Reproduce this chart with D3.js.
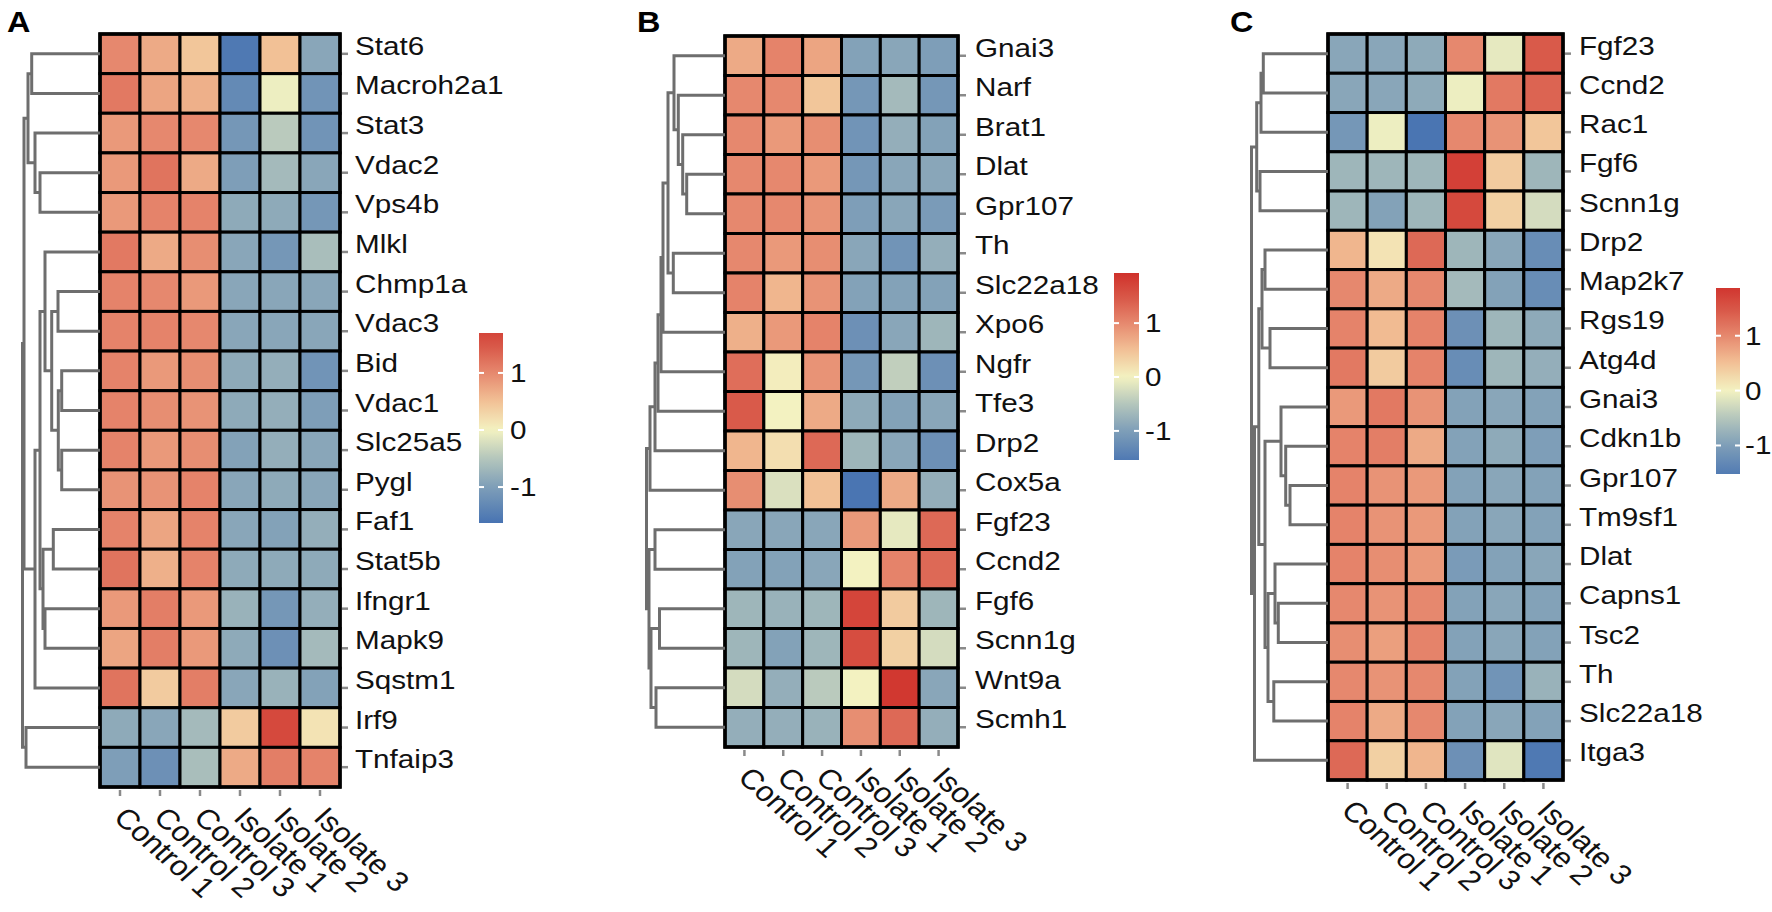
<!DOCTYPE html>
<html><head><meta charset="utf-8">
<script src="https://cdn.jsdelivr.net/npm/d3@7"></script>
<style>
body{margin:0;background:#fff;}
svg{display:block;font-family:"Liberation Sans", Arial, Helvetica, sans-serif;}
</style></head><body>
<svg id="chart" width="1772" height="912"></svg>
<script>
// ---------------- DATA ----------------
const samples = ["Control 1","Control 2","Control 3","Isolate 1","Isolate 2","Isolate 3"];
const legendTicks = [-1, 0, 1];

const genesA = ["Stat6","Macroh2a1","Stat3","Vdac2","Vps4b","Mlkl","Chmp1a","Vdac3","Bid","Vdac1","Slc25a5","Pygl","Faf1","Stat5b","Ifngr1","Mapk9","Sqstm1","Irf9","Tnfaip3"];
const valuesA = [
  [1.0, 0.7, 0.45, -1.55, 0.5, -0.9],
  [1.15, 0.75, 0.65, -1.3, -0.05, -1.15],
  [0.85, 1.0, 1.0, -1.1, -0.45, -1.15],
  [0.85, 1.2, 0.7, -1.0, -0.65, -0.9],
  [0.85, 1.05, 1.05, -0.85, -0.85, -1.1],
  [1.15, 0.7, 0.95, -0.9, -1.1, -0.6],
  [1.05, 1.0, 0.85, -0.9, -0.9, -0.9],
  [1.05, 1.05, 1.0, -0.9, -0.9, -0.9],
  [1.05, 0.85, 0.95, -0.85, -0.8, -1.15],
  [1.05, 0.95, 0.9, -0.85, -0.8, -1.0],
  [1.05, 0.85, 0.95, -0.95, -0.8, -0.9],
  [0.9, 0.9, 1.05, -0.9, -0.85, -0.9],
  [1.05, 0.75, 1.05, -0.9, -0.95, -0.8],
  [1.2, 0.65, 1.05, -0.85, -0.85, -0.85],
  [0.85, 1.1, 0.85, -0.75, -1.1, -0.8],
  [0.75, 1.1, 0.85, -0.85, -1.2, -0.65],
  [1.2, 0.4, 1.1, -0.9, -0.75, -0.95],
  [-0.85, -0.9, -0.65, 0.4, 1.65, 0.15],
  [-1.0, -1.2, -0.6, 0.7, 1.1, 1.05]
];
// dendrogram: [mergeHeight, left, right]
const treeA = [7.75,
  [7.6,
    [7.2, [6.83, "Stat6", "Macroh2a1"], [6.5, "Stat3", [6.0, "Vdac2", "Vps4b"]]],
    [6.5,
      [6.0,
        [5.5, "Mlkl", [4.83, [4.2, "Chmp1a", "Vdac3"], [4.17, [3.83, "Bid", "Vdac1"], [3.83, "Slc25a5", "Pygl"]]]],
        [5.7, [4.67, "Faf1", "Stat5b"], [5.5, "Ifngr1", "Mapk9"]]],
      "Sqstm1"]],
  [7.4, "Irf9", "Tnfaip3"]];
const legendDomainA = [-1.63, 1.70];

const genesB = ["Gnai3","Narf","Brat1","Dlat","Gpr107","Th","Slc22a18","Xpo6","Ngfr","Tfe3","Drp2","Cox5a","Fgf23","Ccnd2","Fgf6","Scnn1g","Wnt9a","Scmh1"];
const valuesB = [
  [0.7, 1.05, 0.75, -0.95, -0.9, -1.0],
  [1.0, 1.0, 0.45, -1.1, -0.65, -1.1],
  [1.0, 0.85, 0.95, -1.15, -0.8, -0.95],
  [1.0, 1.0, 0.85, -1.1, -0.9, -0.9],
  [1.0, 1.0, 0.9, -1.0, -0.9, -1.05],
  [1.0, 0.85, 0.95, -0.9, -1.15, -0.8],
  [1.05, 0.6, 0.9, -0.95, -0.95, -0.95],
  [0.65, 0.85, 1.05, -1.2, -0.9, -0.7],
  [1.25, 0.05, 0.9, -1.1, -0.4, -1.2],
  [1.45, 0.0, 0.7, -0.85, -0.95, -0.9],
  [0.6, 0.2, 1.3, -0.7, -0.9, -1.2],
  [0.95, -0.2, 0.5, -1.6, 0.7, -0.8],
  [-0.9, -0.9, -0.9, 0.85, -0.1, 1.3],
  [-0.95, -0.95, -0.9, 0.0, 1.05, 1.3],
  [-0.7, -0.75, -0.7, 1.7, 0.4, -0.7],
  [-0.7, -0.95, -0.7, 1.6, 0.35, -0.25],
  [-0.25, -0.8, -0.45, 0.0, 1.85, -0.9],
  [-0.8, -0.8, -0.75, 0.95, 1.3, -0.8]
];
const treeB = [7.85,
  [7.5, [7.0, [6.7, [6.4, [6.2, [5.7, [5.1, "Gnai3", [4.67, "Narf", [4.23, "Brat1", [3.83, "Dlat", "Gpr107"]]]], [5.17, "Th", "Slc22a18"]], "Xpo6"], "Ngfr"], "Tfe3"], "Drp2"], "Cox5a"],
  [7.6, [7.0, "Fgf23", "Ccnd2"], [7.4, [6.55, "Fgf6", "Scnn1g"], [6.9, "Wnt9a", "Scmh1"]]]];
const legendDomainB = [-1.54, 1.93];

const genesC = ["Fgf23","Ccnd2","Rac1","Fgf6","Scnn1g","Drp2","Map2k7","Rgs19","Atg4d","Gnai3","Cdkn1b","Gpr107","Tm9sf1","Dlat","Capns1","Tsc2","Th","Slc22a18","Itga3"];
const valuesC = [
  [-0.9, -0.9, -0.85, 1.0, -0.1, 1.45],
  [-0.9, -0.9, -0.85, -0.05, 1.15, 1.35],
  [-1.1, -0.05, -1.6, 1.0, 0.9, 0.45],
  [-0.7, -0.7, -0.7, 1.75, 0.4, -0.7],
  [-0.7, -0.95, -0.7, 1.65, 0.35, -0.25],
  [0.6, 0.15, 1.3, -0.7, -0.9, -1.25],
  [1.0, 0.7, 1.0, -0.65, -0.95, -1.25],
  [1.05, 0.55, 1.05, -1.2, -0.7, -0.85],
  [1.15, 0.4, 1.05, -1.25, -0.7, -0.8],
  [0.85, 1.15, 0.9, -0.95, -0.9, -0.95],
  [1.05, 1.1, 0.7, -0.95, -0.85, -1.0],
  [1.05, 0.9, 0.85, -0.95, -0.9, -0.95],
  [1.05, 0.9, 0.85, -0.95, -0.9, -0.95],
  [1.05, 0.95, 0.85, -1.05, -0.95, -0.9],
  [1.0, 0.9, 1.0, -0.95, -0.9, -0.95],
  [0.95, 0.8, 1.05, -0.95, -0.9, -0.95],
  [1.0, 0.9, 1.0, -0.95, -1.15, -0.75],
  [1.05, 0.7, 1.0, -0.95, -0.9, -0.95],
  [1.3, 0.35, 0.6, -1.2, -0.15, -1.55]
];
const treeC = [7.65,
  [7.13, [6.7, [6.47, "Fgf23", "Ccnd2"], "Rac1"], [6.8, "Fgf6", "Scnn1g"]],
  [7.35,
    [6.92,
      [6.6, [6.3, "Drp2", "Map2k7"], [5.8, "Rgs19", "Atg4d"]],
      [6.3,
        [4.7, "Gnai3", [4.23, "Cdkn1b", [3.8, "Gpr107", "Tm9sf1"]]],
        [6.0, [5.3, "Dlat", [4.97, "Capns1", "Tsc2"]], [5.42, "Th", "Slc22a18"]]]],
    "Itga3"]];
const legendDomainC = [-1.52, 1.87];

// ---------------- STYLE / LAYOUT ----------------
const colorStops = [-1.65, -1.0, -0.5, 0, 0.5, 1.0, 1.45, 1.95];
const colorHex   = ["#4672b2","#7e9eb8","#b4c6bc","#f3f2c1","#f2c196","#e6886e","#d95a4a","#cf2f2a"];
const color = d3.scaleLinear().domain(colorStops).range(colorHex).interpolate(d3.interpolateRgb).clamp(true);

const FONT = 26.5, COLFONT = 28, SX = 1.12;
const panels = [
  {letter:"A", genes:genesA, values:valuesA, tree:treeA, ldom:legendDomainA,
   hm:{x0:100, x1:340, y0:34, y1:787}, dl:22.5, lx:355, lg:{x:479, w:24, y0:333, y1:523}, llx:510, letX:7},
  {letter:"B", genes:genesB, values:valuesB, tree:treeB, ldom:legendDomainB,
   hm:{x0:725, x1:958, y0:36, y1:747}, dl:646.5, lx:975, lg:{x:1114, w:25, y0:273, y1:460}, llx:1145, letX:637},
  {letter:"C", genes:genesC, values:valuesC, tree:treeC, ldom:legendDomainC,
   hm:{x0:1328, x1:1563, y0:34, y1:780}, dl:1251.5, lx:1579, lg:{x:1716, w:24, y0:288, y1:474}, llx:1745, letX:1230}
];

const svg = d3.select("#chart");
svg.append("rect").attr("width",1772).attr("height",912).attr("fill","#fff");

panels.forEach(p => {
  const g = svg.append("g");
  const x = d3.scaleBand().domain(samples).range([p.hm.x0, p.hm.x1]);
  const y = d3.scaleBand().domain(p.genes).range([p.hm.y0, p.hm.y1]);

  // cells
  const cells = [];
  p.values.forEach((row, i) => row.forEach((v, j) => cells.push({gene:p.genes[i], s:samples[j], v})));
  g.append("g").selectAll("rect").data(cells).join("rect")
    .attr("x", d => x(d.s)).attr("y", d => y(d.gene))
    .attr("width", x.bandwidth()).attr("height", y.bandwidth())
    .attr("fill", d => color(d.v))
    .attr("stroke", "#000").attr("stroke-width", 3);
  g.append("rect").attr("x", p.hm.x0).attr("y", p.hm.y0)
    .attr("width", p.hm.x1 - p.hm.x0).attr("height", p.hm.y1 - p.hm.y0)
    .attr("fill", "none").attr("stroke", "#000").attr("stroke-width", 3.5);

  // row ticks + labels
  g.append("g").selectAll("line").data(p.genes).join("line")
    .attr("x1", p.hm.x1 + 2).attr("x2", p.hm.x1 + 8)
    .attr("y1", d => y(d) + y.bandwidth()/2).attr("y2", d => y(d) + y.bandwidth()/2)
    .attr("stroke", "#8a8a8a").attr("stroke-width", 2.5);
  g.append("g").selectAll("text").data(p.genes).join("text")
    .attr("transform", d => `translate(${p.lx},${y(d) + y.bandwidth()/2 + 1}) scale(${SX},1)`)
    .attr("font-size", FONT).attr("fill", "#111").text(d => d);

  // column ticks + labels
  g.append("g").selectAll("line").data(samples).join("line")
    .attr("x1", d => x(d) + x.bandwidth()/2).attr("x2", d => x(d) + x.bandwidth()/2)
    .attr("y1", p.hm.y1 + 3).attr("y2", p.hm.y1 + 9)
    .attr("stroke", "#8a8a8a").attr("stroke-width", 2.5);
  g.append("g").selectAll("text").data(samples).join("text")
    .attr("transform", d => `translate(${x(d) + x.bandwidth()/2},${p.hm.y1 + 25}) scale(${SX},1) rotate(45)`)
    .attr("font-size", COLFONT).attr("dominant-baseline", "central").attr("fill", "#111").text(d => d);

  // dendrogram
  const root = d3.hierarchy(p.tree, d => Array.isArray(d) ? d.slice(1) : null);
  const xh = d3.scaleLinear().domain([0, p.tree[0]]).range([p.hm.x0, p.dl]);
  root.eachAfter(n => {
    if (!n.children) { n.py = y(n.data) + y.bandwidth()/2; n.ph = 0; }
    else { n.ph = n.data[0]; n.py = d3.mean(n.children, c => c.py); }
  });
  const nodes = root.descendants().filter(n => n.children);
  g.append("g").selectAll("path").data(nodes).join("path")
    .attr("d", n => {
      const [a, b] = n.children;
      const xn = xh(n.ph);
      return `M${xh(a.ph)},${a.py}H${xn}V${b.py}H${xh(b.ph)}`;
    })
    .attr("fill", "none").attr("stroke", "#6e6e6e").attr("stroke-width", 3);

  // legend
  const ly = d3.scaleLinear().domain(p.ldom).range([p.lg.y1, p.lg.y0]);
  const gradId = "grad" + p.letter;
  const grad = svg.append("defs").append("linearGradient").attr("id", gradId)
    .attr("x1", 0).attr("y1", 1).attr("x2", 0).attr("y2", 0);
  const nStops = 40;
  grad.selectAll("stop").data(d3.range(nStops + 1)).join("stop")
    .attr("offset", i => i / nStops)
    .attr("stop-color", i => color(p.ldom[0] + (p.ldom[1] - p.ldom[0]) * i / nStops));
  g.append("rect").attr("x", p.lg.x).attr("y", p.lg.y0)
    .attr("width", p.lg.w).attr("height", p.lg.y1 - p.lg.y0)
    .attr("fill", `url(#${gradId})`);
  legendTicks.forEach(t => {
    const yy = ly(t);
    g.append("line").attr("x1", p.lg.x).attr("x2", p.lg.x + 5).attr("y1", yy).attr("y2", yy)
      .attr("stroke", "#fff").attr("stroke-width", 2);
    g.append("line").attr("x1", p.lg.x + p.lg.w - 5).attr("x2", p.lg.x + p.lg.w).attr("y1", yy).attr("y2", yy)
      .attr("stroke", "#fff").attr("stroke-width", 2);
    g.append("text").attr("transform", `translate(${p.llx},${yy}) scale(${SX},1)`)
      .attr("font-size", FONT).attr("dominant-baseline", "central").attr("fill", "#111")
      .text(t === -1 ? "-1" : String(t));
  });

  // panel letter
  g.append("text").attr("transform", `translate(${p.letX},32) scale(1.08,1)`)
    .attr("font-size", 30).attr("font-weight", "bold").attr("fill", "#000").text(p.letter);
});
</script>
</body></html>
